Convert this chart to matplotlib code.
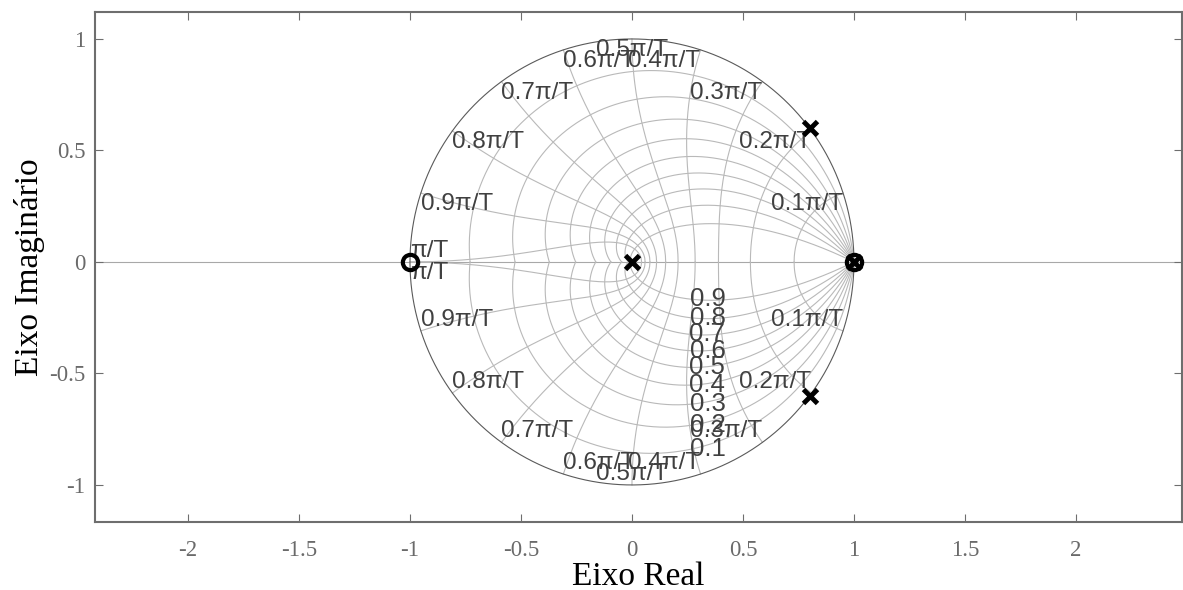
import numpy as np
import matplotlib
matplotlib.use('Agg')
import matplotlib.pyplot as plt

# pole-zero data (z-plane, T = 1)
poles_re = [0.8, 0.8, 0.0, 1.0]
poles_im = [0.6, -0.6, 0.0, 0.0]
zeros_re = [-1.0, 1.0]
zeros_im = [0.0, 0.0]

# grid definition (zgrid style)
zeta_vals = [0.1, 0.2, 0.3, 0.4, 0.5, 0.6, 0.7, 0.8, 0.9]
wn_vals = [0.1, 0.2, 0.3, 0.4, 0.5, 0.6, 0.7, 0.8, 0.9, 1.0]  # times pi/T
wn_labels = ['0.1π/T', '0.2π/T', '0.3π/T', '0.4π/T', '0.5π/T',
             '0.6π/T', '0.7π/T', '0.8π/T', '0.9π/T', 'π/T']
zeta_label_re = 0.26

xticks = [-2, -1.5, -1, -0.5, 0, 0.5, 1, 1.5, 2]
yticks = [-1, -0.5, 0, 0.5, 1]

GRID = '#b9b9b9'
TXT = '#404040'
AX = '#6e6e6e'
SANS = ['Liberation Sans', 'DejaVu Sans']

fig = plt.figure(figsize=(11.83, 5.9), dpi=100)
ax = fig.add_axes([0.0803, 0.1153, 0.9187, 0.8644])

# x axis line
ax.axhline(0, color='#a8a8a8', lw=0.8, zorder=1)

# damping lines
th = np.linspace(0, np.pi, 400)
for z in zeta_vals:
    m = z / np.sqrt(1 - z ** 2)
    zz = np.exp(th * (-m + 1j))
    ax.plot(zz.real, zz.imag, color=GRID, lw=0.8, zorder=1)
    ax.plot(zz.real, -zz.imag, color=GRID, lw=0.8, zorder=1)
    # label on lower half where the curve reaches Re = zeta_label_re
    k = np.argmin(np.abs(zz.real - zeta_label_re))
    ax.text(zz.real[k], -zz.imag[k], f'{z:g}', ha='left', va='center',
            fontsize=18.5, color=TXT, family=SANS, zorder=3)

# natural frequency lines
zt = np.linspace(0, 1, 200)
for w in wn_vals:
    wn = w * np.pi
    zz = np.exp(wn * (-zt + 1j * np.sqrt(1 - zt ** 2)))
    ax.plot(zz.real, zz.imag, color=GRID, lw=0.8, zorder=1)
    ax.plot(zz.real, -zz.imag, color=GRID, lw=0.8, zorder=1)

# unit circle
uc = np.exp(1j * np.linspace(0, 2 * np.pi, 600))
ax.plot(uc.real, uc.imag, color='#5a5a5a', lw=0.8, zorder=2)

# frequency labels
for w, lab in zip(wn_vals, wn_labels):
    px, py = np.cos(w * np.pi), np.sin(w * np.pi)
    if abs(px) < 1e-9:
        ha = 'center'
    elif px > 0:
        ha = 'right'
    else:
        ha = 'left'
    for sgn in (1, -1):
        if w == 1.0:
            va = 'bottom' if sgn > 0 else 'top'
        else:
            va = 'top' if sgn > 0 else 'bottom'
        ax.text(px, sgn * py, lab, ha=ha, va=va, fontsize=17.5, color=TXT,
                family=SANS, zorder=3)

# zeros and poles
ax.plot(zeros_re, zeros_im, 'o', ms=11, mfc='none', mec='black', mew=3, zorder=5)
ax.plot(poles_re, poles_im, 'x', ms=10, color='black', mew=3.5, zorder=5)

ax.set_xlim(-2.419, 2.477)
ax.set_ylim(-1.166, 1.121)
ax.set_xticks(xticks)
ax.set_xticklabels([f'{t:g}' for t in xticks])
ax.set_yticks(yticks)
ax.set_yticklabels([f'{t:g}' for t in yticks])
ax.tick_params(direction='in', length=6, width=0.8, color=AX, labelcolor='#6a6a6a',
               labelsize=16.5, top=True, right=True)
ax.tick_params(axis='x', pad=13)
ax.tick_params(axis='y', pad=7)
for lab in ax.get_xticklabels() + ax.get_yticklabels():
    lab.set_family('Liberation Serif')
for s in ax.spines.values():
    s.set_color(AX)
    s.set_linewidth(1.5)

ax.set_xlabel('Eixo Real', fontsize=24, family='Liberation Serif', labelpad=0)
ax.set_ylabel('Eixo Imaginário', fontsize=24, family='Liberation Serif', labelpad=3)

fig.savefig('out.png', dpi=100)
